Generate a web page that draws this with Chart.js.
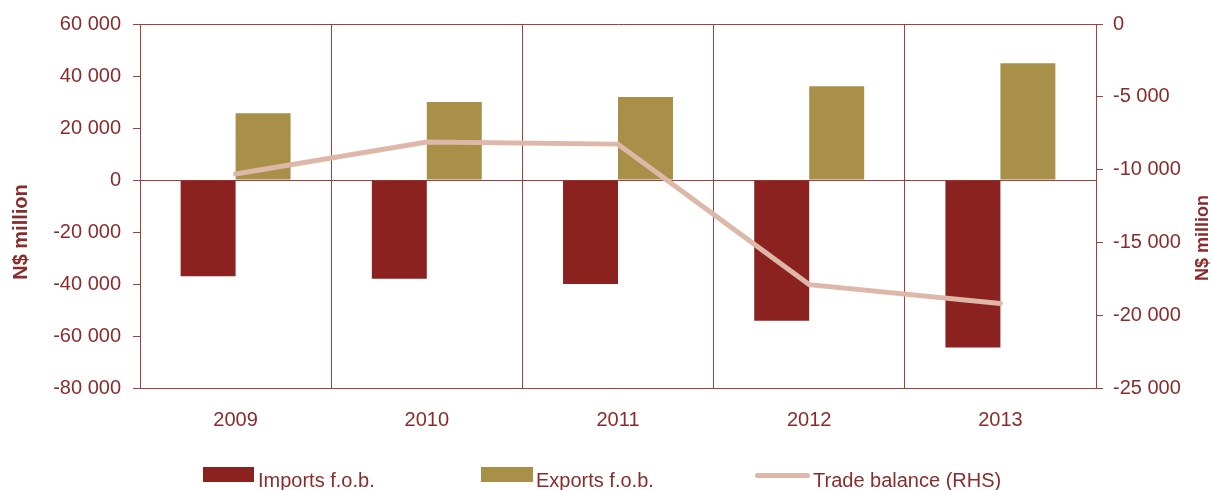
<!DOCTYPE html>
<html>
<head>
<meta charset="utf-8">
<script src="https://cdn.jsdelivr.net/npm/chart.js@4.4.0/dist/chart.umd.min.js"></script>
<style>
  html, body { margin: 0; padding: 0; background: #fff; }
  #wrap { position: relative; width: 1213px; height: 490px; font-family: "Liberation Sans", Arial, sans-serif; }
  #grafico { position: absolute; left: 0; top: 0; }
  .item { position: absolute; top: 470px; height: 20px; font-size: 20px; line-height: 20px; color: #8B2C2C; white-space: nowrap; }
  .caixa { position: absolute; }
</style>
</head>
<body>
<div id="wrap">
  <canvas id="grafico" width="1213" height="490"></canvas>
  <div class="caixa" style="left:203px; top:467px; width:51px; height:15px; background:#8B2220;"></div>
  <div class="item" style="left:258px;">Imports f.o.b.</div>
  <div class="caixa" style="left:481px; top:467px; width:52px; height:15px; background:#A89048;"></div>
  <div class="item" style="left:536px;">Exports f.o.b.</div>
  <div class="caixa" style="left:755px; top:473px; width:55px; height:5px; border-radius:3px; background:#DDB8A8;"></div>
  <div class="item" style="left:813px;">Trade balance (RHS)</div>
</div>
<script>
const anos = ['2009', '2010', '2011', '2012', '2013'];
const importacoes = [-37000, -38000, -40000, -54100, -64400];
const exportacoes = [25700, 30000, 31900, 36100, 44900];
const saldo = [-10300, -8100, -8250, -17900, -19200];

const COR_EIXO = '#A0403F';
const COR_TEXTO = '#8B2C2C';
const FONTE = '"Liberation Sans", Arial, sans-serif';

// separador de milhar com espaço: 60 000
const formatar = (v) => String(v).replace(/\B(?=(\d{3})+(?!\d))/g, ' ');

// títulos dos eixos (os dois lidos de baixo para cima)
const titulos = {
    id: 'titulos',
    afterDraw(chart) {
        const ctx = chart.ctx;
        const escrever = (x, y, tamanho) => {
            ctx.save();
            ctx.fillStyle = COR_TEXTO;
            ctx.textAlign = 'center';
            ctx.textBaseline = 'middle';
            ctx.font = 'bold ' + tamanho + 'px ' + FONTE;
            ctx.translate(x, y);
            ctx.rotate(-Math.PI / 2);
            ctx.fillText('N$ million', 0, 0);
            ctx.restore();
        };
        escrever(21, 232, 20);
        escrever(1203, 238, 18);
    }
};

const ctx = document.getElementById('grafico');
const grafico = new Chart(ctx, {
    type: 'bar',
    data: {
        labels: anos,
        datasets: [
            {
                type: 'line',
                label: 'Trade balance (RHS)',
                data: saldo,
                yAxisID: 'y2',
                borderColor: '#DDB8A8',
                borderWidth: 5,
                borderCapStyle: 'round',
                pointRadius: 0,
                tension: 0,
                order: 0
            },
            {
                label: 'Imports f.o.b.',
                data: importacoes,
                backgroundColor: '#8B2220',
                yAxisID: 'y',
                order: 1
            },
            {
                label: 'Exports f.o.b.',
                data: exportacoes,
                backgroundColor: '#A89048',
                yAxisID: 'y',
                order: 1
            }
        ]
    },
    options: {
        responsive: false,
        animation: false,
        layout: { padding: { top: 23, bottom: 42, left: 0, right: 0 } },
        datasets: {
            bar: { categoryPercentage: 0.575, barPercentage: 1.0 }
        },
        plugins: {
            legend: { display: false },
            tooltip: { enabled: false }
        },
        scales: {
            x: {
                offset: true,
                grid: { offset: true, color: COR_EIXO, lineWidth: 1, tickLength: 0 },
                border: { color: COR_EIXO },
                ticks: { color: COR_TEXTO, font: { size: 20, family: FONTE }, padding: 20 },
                afterFit: (s) => { s.height = 60; }
            },
            y: {
                position: 'left',
                min: -80000,
                max: 60000,
                ticks: {
                    stepSize: 20000,
                    color: COR_TEXTO,
                    padding: 12,
                    font: { size: 20, family: FONTE },
                    callback: (v) => formatar(v)
                },
                grid: {
                    color: (c) => (c.tick && [60000, 0, -80000].includes(c.tick.value)) ? COR_EIXO : 'rgba(0,0,0,0)',
                    tickColor: COR_EIXO,
                    tickLength: 7
                },
                border: { color: COR_EIXO },
                afterFit: (s) => { s.width = 140; }
            },
            y2: {
                position: 'right',
                min: -25000,
                max: 0,
                ticks: {
                    stepSize: 5000,
                    color: COR_TEXTO,
                    padding: 10,
                    font: { size: 20, family: FONTE },
                    callback: (v) => formatar(v)
                },
                grid: { drawOnChartArea: false, tickColor: COR_EIXO, tickLength: 7 },
                border: { color: COR_EIXO },
                afterFit: (s) => { s.width = 117; }
            }
        }
    },
    plugins: [titulos]
});
</script>
</body>
</html>
